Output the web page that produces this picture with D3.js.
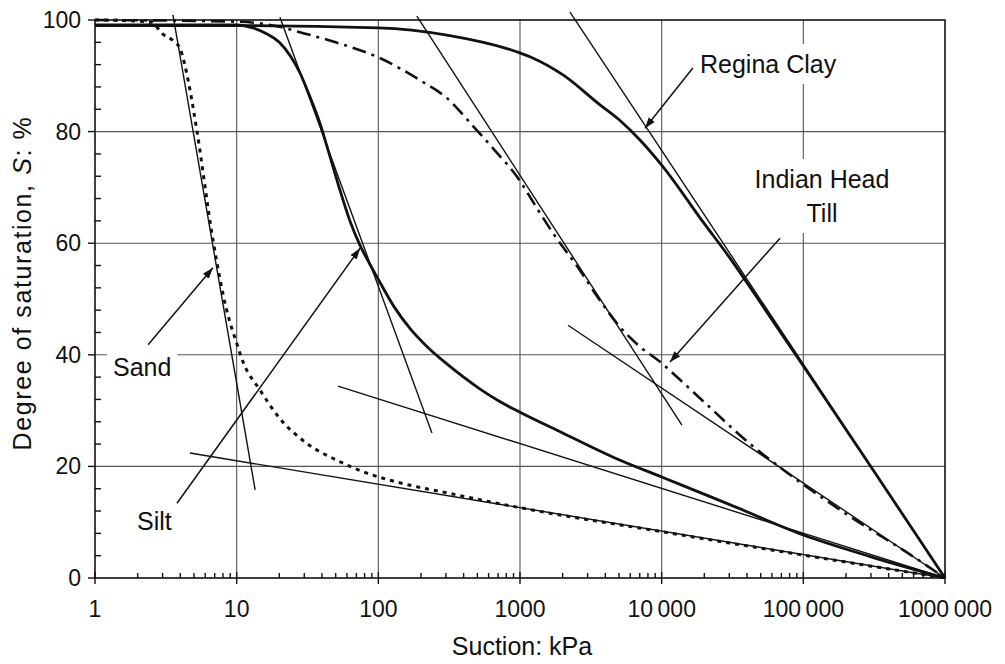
<!DOCTYPE html>
<html lang="en">
<head>
    <meta charset="UTF-8">
    <title>Degree of saturation vs suction</title>
    <style>
        body {
            margin: 0;
            background-color: white;
        }
        svg {
            display: block;
            font-family: 'Liberation Sans', Arial, sans-serif;
        }
        .grid line {
            stroke: #555;
            stroke-width: 1.1;
        }
    </style>
</head>
<body>

    <div id="chart"></div>

    <script src="https://d3js.org/d3.v7.min.js"></script>

    <script>
        // Chart data (suction in kPa, saturation in %)
        var sandSuction = [1, 2, 2.5, 3.0, 3.6, 4.0, 4.3, 4.6, 5.25, 6.8, 8.5, 10, 11.1, 14.6, 20, 31, 51, 83, 135, 300, 1000, 10000, 100000, 1000000];
        var sandSat     = [100, 99.8, 99.6, 97.5, 96.2, 94.8, 92, 88.5, 80, 60.6, 48, 42.1, 38.7, 33.7, 28.7, 24.2, 21.1, 18.8, 17.2, 15.3, 12.6, 8.3, 4.1, 0];

        var siltSuction = [1, 10, 13, 16.4, 20, 24, 28, 32, 38.7, 45, 53.6, 63, 74, 86, 100, 130, 170, 220, 300, 400, 520, 700, 1000, 2000, 5000, 10000, 30000, 100000, 300000, 1000000];
        var siltSat     = [99.1, 99.1, 98.6, 97.5, 96, 93.5, 90.5, 87, 81.5, 76, 69.5, 64, 59.7, 56.5, 53.5, 48.5, 44.5, 41.5, 38.5, 36, 33.9, 31.8, 29.7, 26, 21.2, 18.1, 13.2, 7.7, 3.8, 0];

        var reginaSuction = [1, 10, 100, 305, 950, 1230, 2000, 3670, 5080, 7030, 10000, 20000, 30000, 47000, 100000, 310000, 1000000];
        var reginaSat     = [99, 99, 98.6, 97.3, 94.3, 93.2, 90.2, 84.8, 82, 78.5, 74, 63.5, 57.5, 50.3, 38, 19.4, 0];

        var tillSuction = [1, 10, 20, 30, 50, 102, 197, 305, 466, 645, 953, 1384, 1710, 2640, 3500, 5080, 7000, 10000, 12000, 20000, 40000, 84500, 200000, 634000, 1000000];
        var tillSat     = [100, 99.7, 98.8, 97.6, 96, 93.2, 89.2, 86, 81, 77, 71.9, 65.4, 61.8, 55.2, 50.5, 45, 41.5, 38.5, 36.7, 31.5, 24.5, 18.1, 11.5, 3.4, 0];

        // straight construction lines: [suction1, sat1, suction2, sat2]
        var tangentLines = [
            [3.55, 100.9, 13.5, 15.8],
            [4.68, 22.4, 1000000, 0],
            [20.2, 100.5, 239, 26.0],
            [51.9, 34.4, 1000000, 0],
            [187, 100.7, 13900, 27.4],
            [2182, 45.3, 1000000, 0],
            [2254, 101.4, 1000000, 0]
        ];

        var xTickValues = [1, 10, 100, 1000, 10000, 100000, 1000000];
        var xTickLabels = ["1", "10", "100", "1000", "10\u2009000", "100\u2009000", "1000\u2009000"];
        var yTickValues = [0, 20, 40, 60, 80, 100];

        // labels with arrows: text, arrow tail and head in data units
        var labelNames = ["Regina Clay", "Indian Head|Till", "Sand", "Silt"];
        var arrowTail  = [[16600, 91.4], [68400, 60.9], [2.37, 41.8], [3.79, 13.4]];
        var arrowHead  = [[7620, 80.6], [11450, 38.7], [6.8, 55.6], [74.3, 59.1]];

        var w = 1005;
        var h = 664;
        var mLeft = 95, mRight = 945, mTop = 20, mBottom = 578;

        var x = d3.scaleLog().domain([1, 1000000]).range([mLeft, mRight]);
        var y = d3.scaleLinear().domain([0, 100]).range([mBottom, mTop]);

        var svg = d3.select("#chart")
            .append("svg")
            .attr("width", w)
            .attr("height", h);

        svg.append("defs").append("marker")
            .attr("id", "arrow")
            .attr("viewBox", "0 0 10 10")
            .attr("refX", 10)
            .attr("refY", 5)
            .attr("markerWidth", 11)
            .attr("markerHeight", 11)
            .attr("markerUnits", "userSpaceOnUse")
            .attr("orient", "auto")
            .append("path")
            .attr("d", "M0,1.5 L10,5 L0,8.5 Z")
            .attr("fill", "#111");

        // grid
        var grid = svg.append("g").attr("class", "grid");
        grid.selectAll(".vx")
            .data(xTickValues.slice(1, -1))
            .enter()
            .append("line")
            .attr("x1", d => x(d)).attr("x2", d => x(d))
            .attr("y1", mTop).attr("y2", mBottom);
        grid.selectAll(".hy")
            .data(yTickValues.slice(1, -1))
            .enter()
            .append("line")
            .attr("x1", mLeft).attr("x2", mRight)
            .attr("y1", d => y(d)).attr("y2", d => y(d));

        // white boxes behind the labels break the grid like the original
        var labelPos = [[700, 73], [822, 188], [113, 376], [137, 530]];
        labelPos.forEach(function(p, i) {
            var lines = labelNames[i].split("|");
            var g = svg.append("g");
            var t = g.append("text")
                .attr("x", p[0])
                .attr("y", p[1])
                .attr("font-size", 25)
                .attr("fill", "#111")
                .attr("text-anchor", lines.length > 1 ? "middle" : "start");
            lines.forEach(function(s, j) {
                t.append("tspan")
                    .attr("x", p[0])
                    .attr("dy", j === 0 ? 0 : 34)
                    .text(s);
            });
            var bb = t.node().getBBox();
            g.insert("rect", "text")
                .attr("x", bb.x - 6).attr("y", bb.y - 6)
                .attr("width", bb.width + 12).attr("height", bb.height + 12)
                .attr("fill", "white");
        });

        // axes ticks
        var axis = svg.append("g").attr("stroke", "#111").attr("stroke-width", 1.4);
        var minorX = [];
        for (var d = 1; d < 1000000; d *= 10) {
            for (var k = 2; k <= 9; k++) minorX.push(d * k);
        }
        axis.selectAll(".mx").data(minorX).enter().append("line")
            .attr("x1", d => x(d)).attr("x2", d => x(d))
            .attr("y1", mBottom).attr("y2", mBottom - 5);
        axis.selectAll(".Mx").data(xTickValues).enter().append("line")
            .attr("x1", d => x(d)).attr("x2", d => x(d))
            .attr("y1", mBottom - 6).attr("y2", mBottom + 6);
        var minorY = d3.range(0, 100, 4).filter(d => d % 20 !== 0);
        axis.selectAll(".my").data(minorY).enter().append("line")
            .attr("x1", mLeft).attr("x2", mLeft + 6)
            .attr("y1", d => y(d)).attr("y2", d => y(d));
        axis.selectAll(".My").data(yTickValues).enter().append("line")
            .attr("x1", mLeft - 7).attr("x2", mLeft)
            .attr("y1", d => y(d)).attr("y2", d => y(d));

        // frame
        svg.append("rect")
            .attr("x", mLeft).attr("y", mTop)
            .attr("width", mRight - mLeft).attr("height", mBottom - mTop)
            .attr("fill", "none")
            .attr("stroke", "#111")
            .attr("stroke-width", 1.6);

        // tick labels
        svg.selectAll(".xl").data(xTickValues).enter().append("text")
            .attr("x", d => x(d))
            .attr("y", 617)
            .attr("text-anchor", "middle")
            .attr("font-size", 23)
            .attr("fill", "#111")
            .text((d, i) => xTickLabels[i]);
        svg.selectAll(".yl").data(yTickValues).enter().append("text")
            .attr("x", 81)
            .attr("y", d => y(d) + 8)
            .attr("text-anchor", "end")
            .attr("font-size", 23)
            .attr("fill", "#111")
            .text(d => d);

        // axis titles
        svg.append("text")
            .attr("x", 522).attr("y", 655)
            .attr("text-anchor", "middle")
            .attr("font-size", 25)
            .attr("fill", "#111")
            .text("Suction: kPa");
        var yt = svg.append("text")
            .attr("transform", "translate(31,283) rotate(-90)")
            .attr("text-anchor", "middle")
            .attr("font-size", 25)
            .attr("letter-spacing", 1.6)
            .attr("fill", "#111");
        yt.append("tspan").text("Degree of saturation, ");
        yt.append("tspan").attr("font-style", "italic").text("S");
        yt.append("tspan").text(": %");

        // tangent lines
        svg.selectAll(".tan").data(tangentLines).enter().append("line")
            .attr("x1", d => x(d[0])).attr("y1", d => y(d[1]))
            .attr("x2", d => x(d[2])).attr("y2", d => y(d[3]))
            .attr("stroke", "#111")
            .attr("stroke-width", 1.4);

        // curves
        var line = d3.line()
            .x(d => x(d[0]))
            .y(d => y(d[1]))
            .curve(d3.curveMonotoneX);

        function drawCurve(xs, ys, dash, width) {
            svg.append("path")
                .datum(d3.zip(xs, ys))
                .attr("d", line)
                .attr("fill", "none")
                .attr("stroke", "#111")
                .attr("stroke-width", width)
                .attr("stroke-dasharray", dash);
        }
        drawCurve(reginaSuction, reginaSat, null, 2.8);
        drawCurve(siltSuction, siltSat, null, 2.8);
        drawCurve(tillSuction, tillSat, "14,6,3,6", 2.6);
        drawCurve(sandSuction, sandSat, "4,5", 3);

        // arrows
        svg.selectAll(".arr").data(arrowTail).enter().append("line")
            .attr("x1", d => x(d[0])).attr("y1", d => y(d[1]))
            .attr("x2", (d, i) => x(arrowHead[i][0]))
            .attr("y2", (d, i) => y(arrowHead[i][1]))
            .attr("stroke", "#111")
            .attr("stroke-width", 1.5)
            .attr("marker-end", "url(#arrow)");
    </script>

</body>
</html>
